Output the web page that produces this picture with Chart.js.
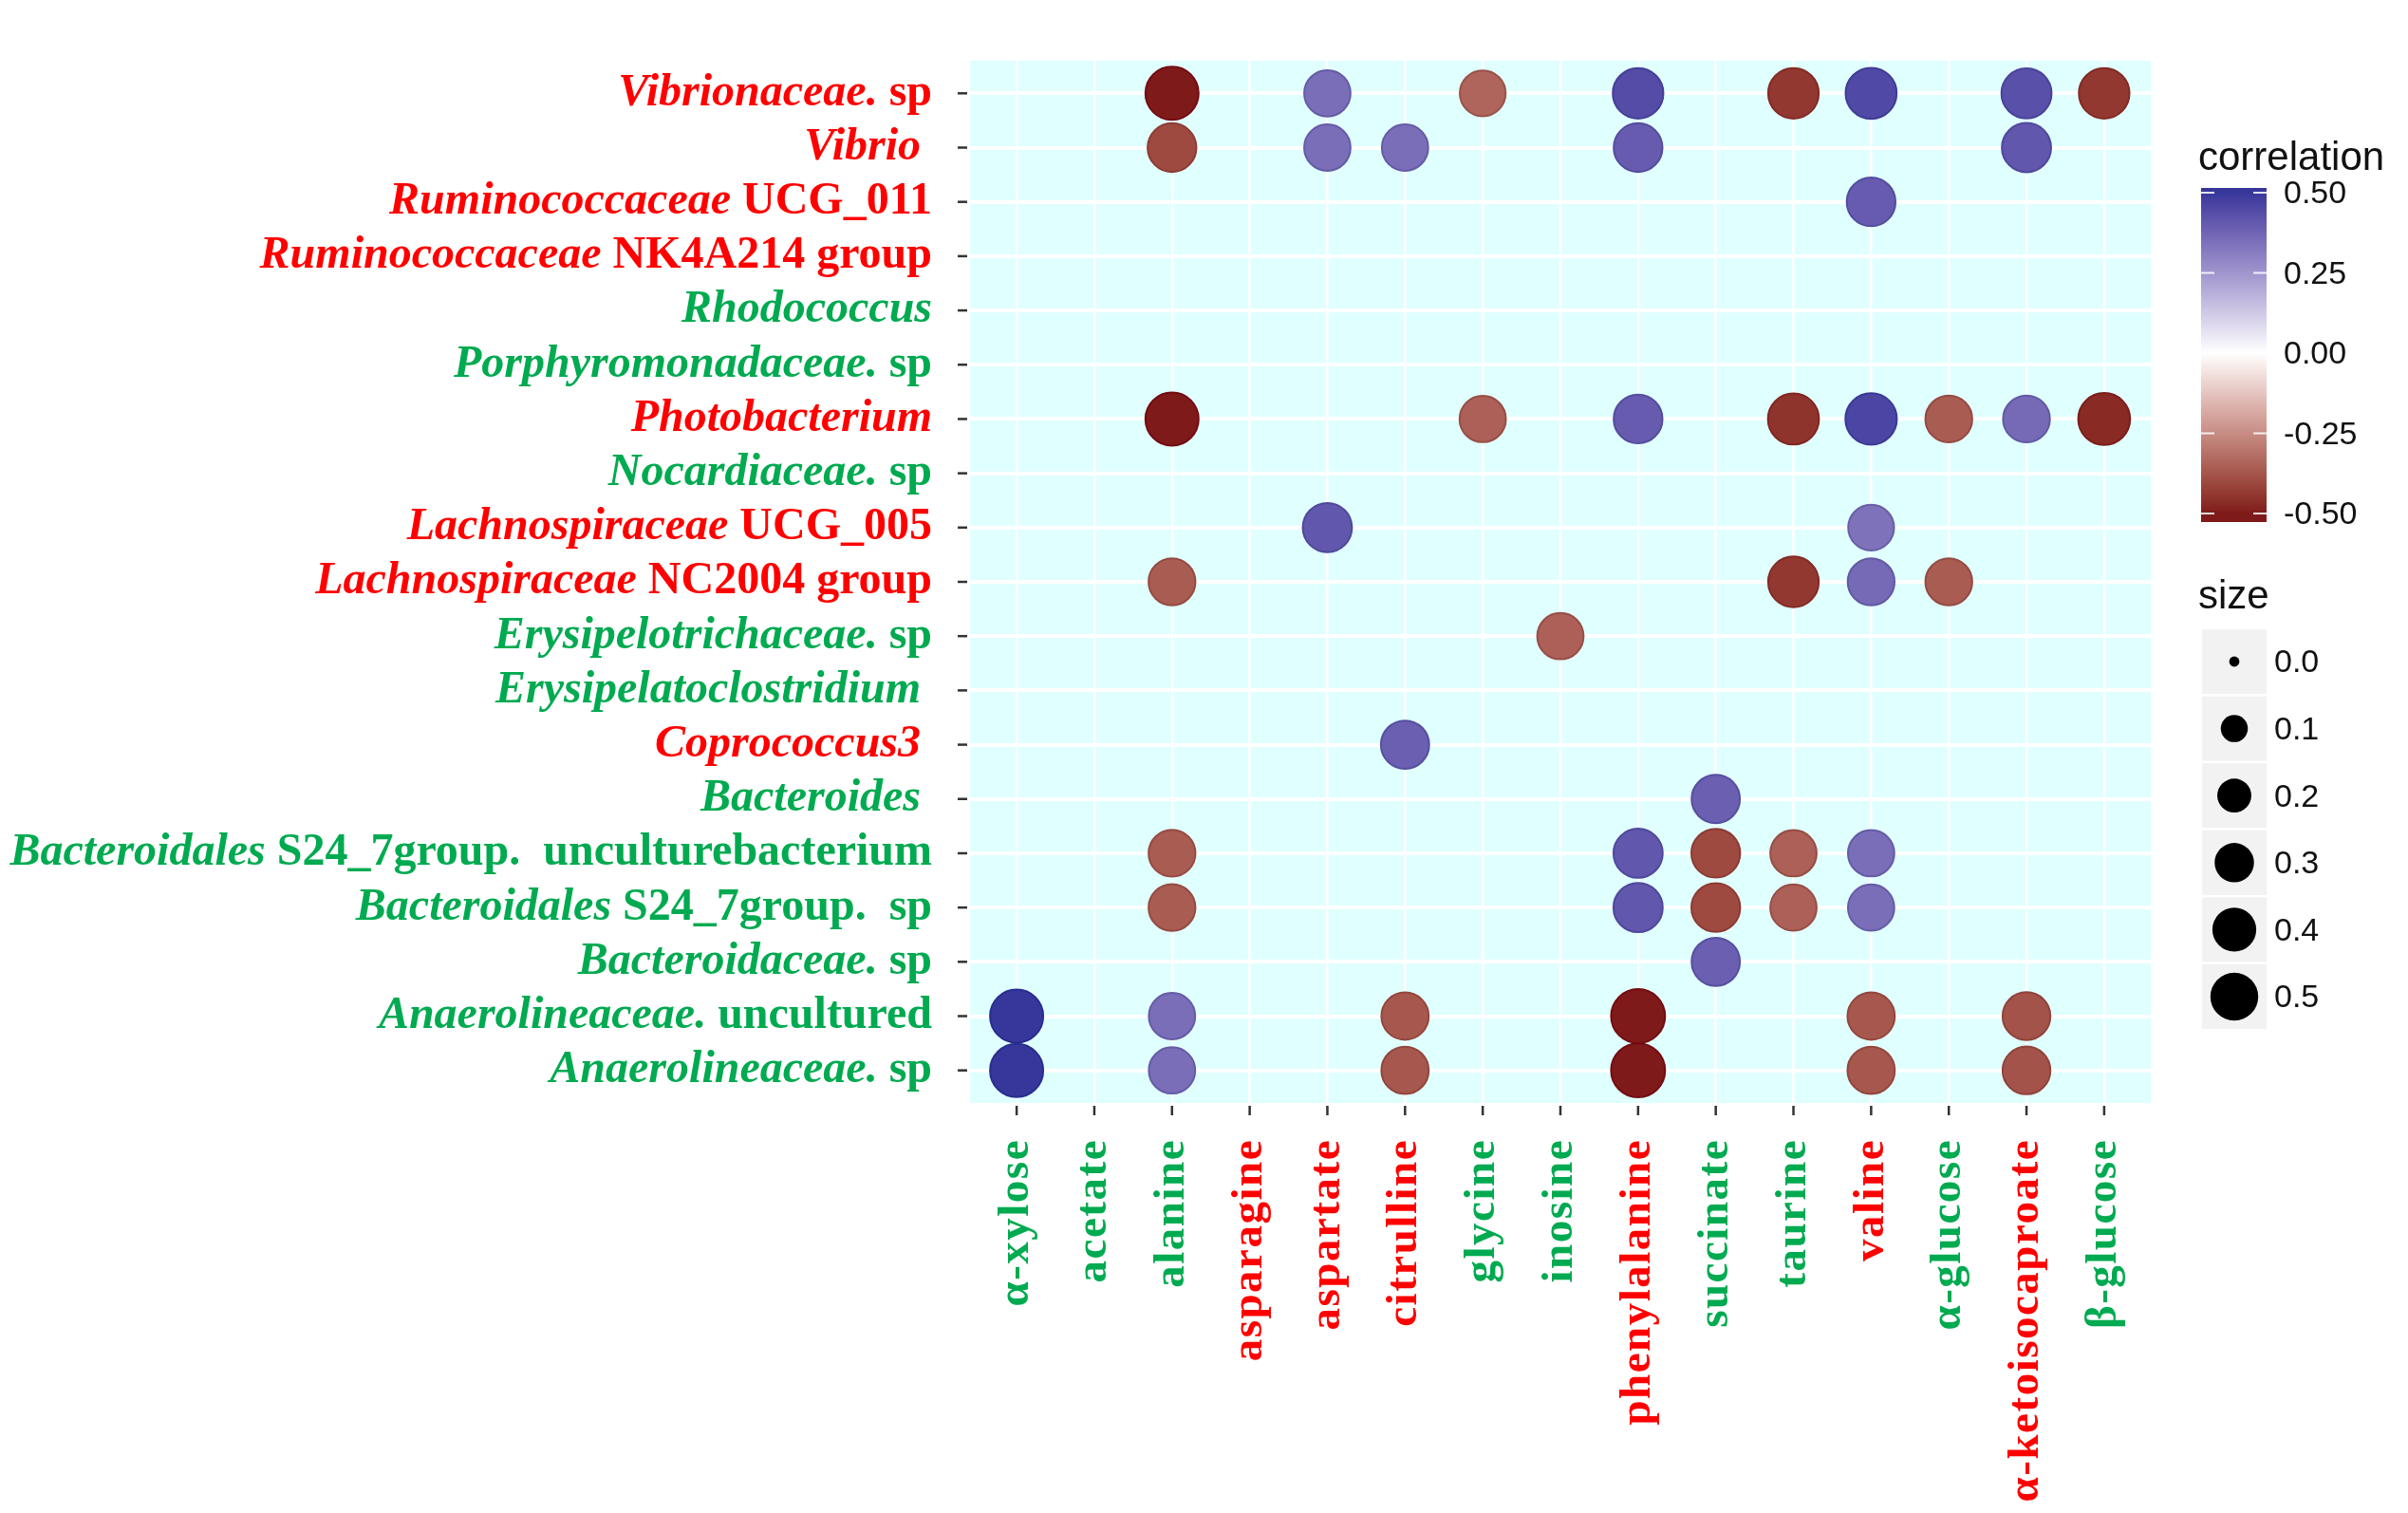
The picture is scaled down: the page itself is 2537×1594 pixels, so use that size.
<!DOCTYPE html>
<html>
<head>
<meta charset="utf-8">
<script src="https://cdn.jsdelivr.net/npm/chart.js@4.4.1/dist/chart.umd.min.js"></script>
<style>
  html, body { margin: 0; padding: 0; background: #fff; }
  #wrap { width: 2537px; height: 1594px; position: relative; }
</style>
</head>
<body>
<div id="wrap"><canvas id="chart"></canvas></div>
<script>
// metabolites on the x axis
const metabolites = ['α-xylose', 'acetate', 'alanine', 'asparagine', 'aspartate', 'citrulline', 'glycine',
  'inosine', 'phenylalanine', 'succinate', 'taurine', 'valine', 'α-glucose', 'α-ketoisocaproate', 'β-glucose'];
const metaboliteColors = ['g', 'g', 'g', 'r', 'r', 'r', 'g', 'g', 'r', 'g', 'g', 'r', 'g', 'r', 'g'];

// taxa on the y axis (top to bottom): italic part + upright part
const taxaItalic = ['Vibrionaceae.', 'Vibrio', 'Ruminococcaceae', 'Ruminococcaceae', 'Rhodococcus',
  'Porphyromonadaceae.', 'Photobacterium', 'Nocardiaceae.', 'Lachnospiraceae', 'Lachnospiraceae',
  'Erysipelotrichaceae.', 'Erysipelatoclostridium', 'Coprococcus3', 'Bacteroides', 'Bacteroidales',
  'Bacteroidales', 'Bacteroidaceae.', 'Anaerolineaceae.', 'Anaerolineaceae.'];
const taxaPlain = [' sp', ' ', ' UCG_011', ' NK4A214 group', '', ' sp', '', ' sp', ' UCG_005', ' NC2004 group',
  ' sp', ' ', ' ', ' ', ' S24_7group.  unculturebacterium', ' S24_7group.  sp', ' sp', ' uncultured', ' sp'];
const taxaColors = ['r', 'r', 'r', 'r', 'g', 'g', 'r', 'g', 'r', 'r', 'g', 'g', 'r', 'g', 'g', 'g', 'g', 'g', 'g'];

// correlation per taxon (rows) and metabolite (columns); null = not shown
const corrValues = [
  [null, null, -0.50, null, 0.35, null, -0.34, null, 0.44, null, -0.44, 0.45, null, 0.43, -0.44],
  [null, null, -0.40, null, 0.35, 0.35, null, null, 0.40, null, null, null, null, 0.41, null],
  [null, null, null, null, null, null, null, null, null, null, null, 0.40, null, null, null],
  [null, null, null, null, null, null, null, null, null, null, null, null, null, null, null],
  [null, null, null, null, null, null, null, null, null, null, null, null, null, null, null],
  [null, null, null, null, null, null, null, null, null, null, null, null, null, null, null],
  [null, null, -0.50, null, null, null, -0.35, null, 0.40, null, -0.45, 0.46, -0.36, 0.36, -0.47],
  [null, null, null, null, null, null, null, null, null, null, null, null, null, null, null],
  [null, null, null, null, 0.41, null, null, null, null, null, null, 0.34, null, null, null],
  [null, null, -0.36, null, null, null, null, null, null, null, -0.44, 0.36, -0.36, null, null],
  [null, null, null, null, null, null, null, -0.35, null, null, null, null, null, null, null],
  [null, null, null, null, null, null, null, null, null, null, null, null, null, null, null],
  [null, null, null, null, null, 0.39, null, null, null, null, null, null, null, null, null],
  [null, null, null, null, null, null, null, null, null, 0.39, null, null, null, null, null],
  [null, null, -0.36, null, null, null, null, null, 0.41, -0.40, -0.35, 0.35, null, null, null],
  [null, null, -0.36, null, null, null, null, null, 0.41, -0.40, -0.35, 0.35, null, null, null],
  [null, null, null, null, null, null, null, null, null, 0.39, null, null, null, null, null],
  [0.50, null, 0.35, null, null, -0.37, null, null, -0.52, null, null, -0.37, null, -0.38, null],
  [0.50, null, 0.35, null, null, -0.37, null, null, -0.52, null, null, -0.37, null, -0.38, null]
];

// legend breaks
const colorBreaks = [0.50, 0.25, 0.00, -0.25, -0.50];
const colorBreakLabels = ['0.50', '0.25', '0.00', '-0.25', '-0.50'];
const sizeBreaks = [0.0, 0.1, 0.2, 0.3, 0.4, 0.5];
const sizeBreakLabels = ['0.0', '0.1', '0.2', '0.3', '0.4', '0.5'];

const RED = '#ff0000', GREEN = '#00aa50';
const HIGH = '#37379b', LOW = '#7f1a1a';
const SERIF = '"Liberation Serif", "Times New Roman", serif';
const SANS = '"Liberation Sans", Arial, sans-serif';

// --- colour helpers (Lab interpolation like ggplot's gradient2) ---
function hexRgb(h){ return [1,3,5].map(i => parseInt(h.substr(i,2),16)); }
function toLin(c){ c/=255; return c <= 0.04045 ? c/12.92 : Math.pow((c+0.055)/1.055, 2.4); }
function fromLin(c){ c = c <= 0.0031308 ? 12.92*c : 1.055*Math.pow(c,1/2.4)-0.055; return Math.round(Math.max(0,Math.min(1,c))*255); }
function rgb2lab(rgb){
    const [r,g,b] = rgb.map(toLin);
    let x = (r*0.4124+g*0.3576+b*0.1805)/0.95047, y = r*0.2126+g*0.7152+b*0.0722, z = (r*0.0193+g*0.1192+b*0.9505)/1.08883;
    const f = t => t > 0.008856 ? Math.cbrt(t) : 7.787*t+16/116;
    x = f(x); y = f(y); z = f(z);
    return [116*y-16, 500*(x-y), 200*(y-z)];
}
function lab2rgb(lab){
    let y = (lab[0]+16)/116, x = lab[1]/500+y, z = y-lab[2]/200;
    const fi = t => t*t*t > 0.008856 ? t*t*t : (t-16/116)/7.787;
    x = fi(x)*0.95047; y = fi(y); z = fi(z)*1.08883;
    const r = x*3.2406+y*-1.5372+z*-0.4986, g = x*-0.9689+y*1.8758+z*0.0415, b = x*0.0557+y*-0.2040+z*1.0570;
    return [fromLin(r), fromLin(g), fromLin(b)];
}
const labW = rgb2lab([255,255,255]), labHi = rgb2lab(hexRgb(HIGH)), labLo = rgb2lab(hexRgb(LOW));
function colorFor(v, dark){
    const t = Math.min(1, Math.abs(v)/0.5);
    const end = v >= 0 ? labHi : labLo;
    const lab = labW.map((w,i) => w + (end[i]-w)*t);
    if (dark) lab[0] = lab[0]*0.85;
    const c = lab2rgb(lab);
    return 'rgb(' + c.join(',') + ')';
}
function diameterFor(s){ return 12 + 44*Math.sqrt(Math.min(Math.abs(s),0.55)/0.5); }

// build the points
const points = [];
corrValues.forEach((row, i) => row.forEach((v, j) => { if (v !== null) points.push({x: j, y: i, v: v}); }));

const panelBg = {
    id: 'panelBg',
    beforeDraw(chart){
        const a = chart.chartArea, ctx = chart.ctx;
        ctx.save();
        ctx.fillStyle = '#e0ffff';
        ctx.fillRect(a.left, a.top, a.right-a.left, a.bottom-a.top);
        ctx.restore();
    }
};

const axisText = {
    id: 'axisText',
    afterDraw(chart){
        const ctx = chart.ctx, a = chart.chartArea, xs = chart.scales.x, ys = chart.scales.y;
        ctx.save();
        ctx.strokeStyle = '#333'; ctx.lineWidth = 2.5;
        // y ticks + labels
        taxaItalic.forEach((it, i) => {
            const y = ys.getPixelForValue(i);
            ctx.beginPath(); ctx.moveTo(a.left-13, y); ctx.lineTo(a.left-3, y); ctx.stroke();
            ctx.fillStyle = taxaColors[i] === 'r' ? RED : GREEN;
            ctx.textBaseline = 'middle'; ctx.textAlign = 'left';
            ctx.font = 'bold 48px ' + SERIF;
            const wp = ctx.measureText(taxaPlain[i]).width;
            const xr = 982;
            ctx.fillText(taxaPlain[i], xr-wp, y);
            ctx.font = 'italic bold 48px ' + SERIF;
            const wi = ctx.measureText(it).width;
            ctx.fillText(it, xr-wp-wi, y);
        });
        // x ticks + labels
        metabolites.forEach((m, j) => {
            const x = xs.getPixelForValue(j);
            ctx.beginPath(); ctx.moveTo(x, a.bottom+3); ctx.lineTo(x, a.bottom+13); ctx.stroke();
            ctx.save();
            ctx.translate(x, 1200); ctx.rotate(-Math.PI/2);
            ctx.fillStyle = metaboliteColors[j] === 'r' ? RED : GREEN;
            ctx.font = 'bold 47px ' + SERIF;
            ctx.letterSpacing = '1.5px';
            ctx.textAlign = 'right'; ctx.textBaseline = 'middle';
            ctx.fillText(m, 0, 0);
            ctx.restore();
        });
        ctx.restore();
    }
};

const legends = {
    id: 'legends',
    afterDraw(chart){
        const ctx = chart.ctx;
        ctx.save();
        // correlation colourbar
        ctx.fillStyle = '#111'; ctx.textBaseline = 'middle'; ctx.textAlign = 'left';
        ctx.font = '42px ' + SANS;
        ctx.fillText('correlation', 2316, 167);
        const bx = 2319, bw = 69, top = 198, bot = 550;
        const yOf = v => 372 - v*338;
        for (let y = top; y < bot; y++){
            const v = (372 - (y+0.5))/338;
            ctx.fillStyle = colorFor(Math.max(-0.5, Math.min(0.5, v)));
            ctx.fillRect(bx, y, bw, 1);
        }
        ctx.strokeStyle = 'rgba(255,255,255,0.85)'; ctx.lineWidth = 2;
        ctx.font = '34px ' + SANS; ctx.fillStyle = '#111';
        colorBreaks.forEach((v, k) => {
            const y = yOf(v);
            ctx.beginPath(); ctx.moveTo(bx, y); ctx.lineTo(bx+14, y); ctx.moveTo(bx+bw-14, y); ctx.lineTo(bx+bw, y); ctx.stroke();
            ctx.fillText(colorBreakLabels[k], 2406, y+2);
        });
        // size legend
        ctx.font = '42px ' + SANS;
        ctx.fillText('size', 2316, 629);
        sizeBreaks.forEach((s, k) => {
            const cy = 697 + k*70.6;
            ctx.fillStyle = '#f2f2f2';
            ctx.fillRect(2320, cy-34, 68, 68);
            ctx.fillStyle = '#000';
            ctx.beginPath(); ctx.arc(2354, cy, diameterFor(s)/2*0.9, 0, Math.PI*2); ctx.fill();
            ctx.fillStyle = '#111';
            ctx.font = '34px ' + SANS;
            ctx.fillText(sizeBreakLabels[k], 2396, cy+2);
        });
        ctx.restore();
    }
};

function catScale(n, rev, lw){
    return {
        type: 'linear', min: -0.6, max: n - 1 + 0.6, reverse: rev,
        afterBuildTicks: s => { s.ticks = Array.from({length: n}, (_, i) => ({value: i})); },
        afterFit: s => { if (s.isHorizontal()) s.height = 0; else s.width = 0; },
        grid: { color: '#ffffff', lineWidth: lw, drawTicks: false },
        border: { display: false },
        ticks: { display: false }
    };
}

new Chart(document.getElementById('chart'), {
    type: 'scatter',
    data: {
        datasets: [{
            data: points,
            pointRadius: c => diameterFor(c.raw.v)/2,
            pointBackgroundColor: c => colorFor(c.raw.v),
            pointBorderColor: c => colorFor(c.raw.v, true),
            pointBorderWidth: 2
        }]
    },
    options: {
        responsive: true, maintainAspectRatio: false, devicePixelRatio: 1,
        animation: false, events: [],
        layout: { padding: { left: 1022, right: 271, top: 64, bottom: 432 } },
        plugins: { legend: { display: false }, tooltip: { enabled: false } },
        scales: { x: catScale(metabolites.length, false, 2.5), y: catScale(taxaItalic.length, true, 4) }
    },
    plugins: [panelBg, axisText, legends]
});
</script>
</body>
</html>
